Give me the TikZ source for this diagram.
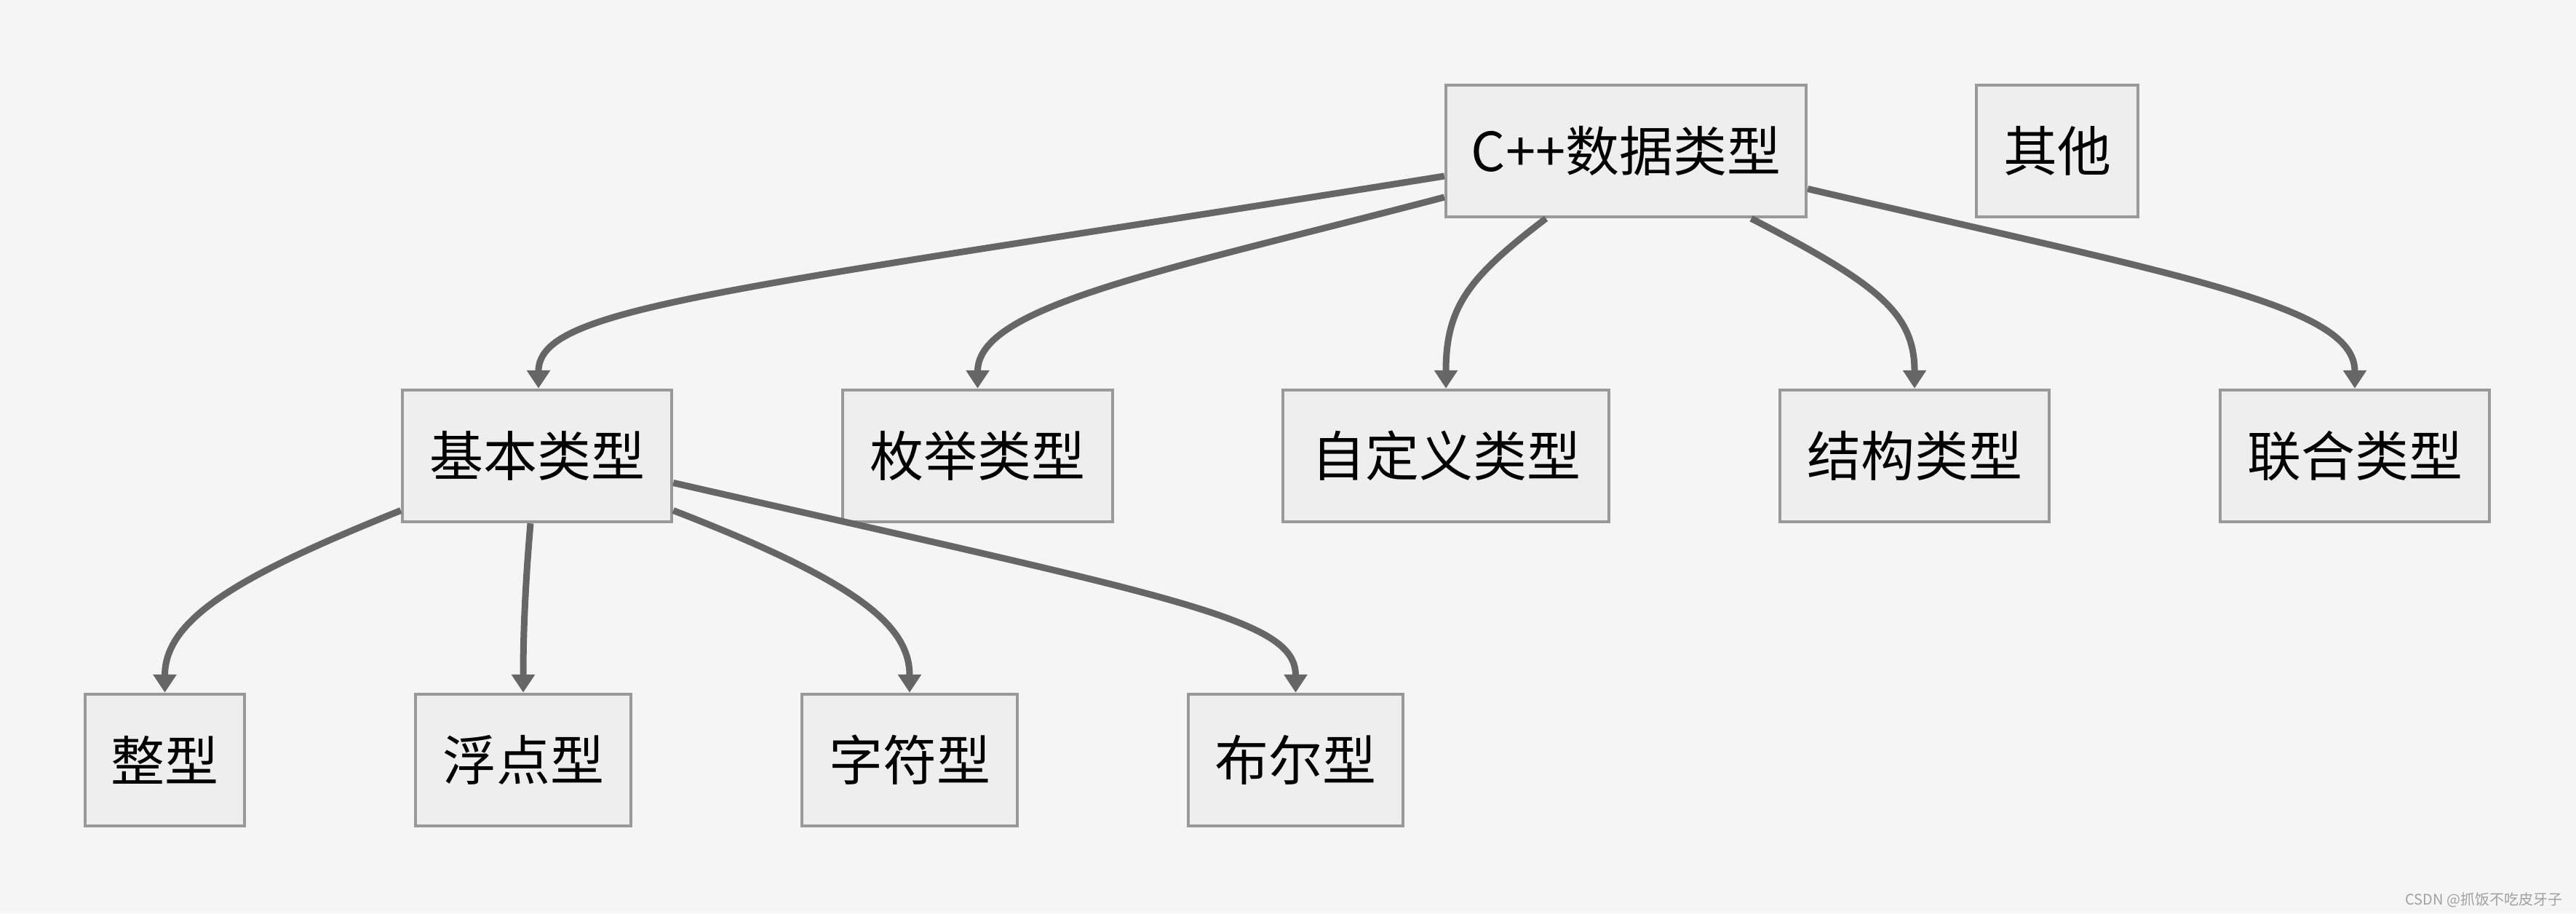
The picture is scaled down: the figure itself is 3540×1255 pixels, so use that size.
\documentclass[tikz,border=0pt]{standalone}
\usepackage{fontspec}
\setmainfont{Noto Sans CJK SC}
\usetikzlibrary{arrows.meta}
\definecolor{bgc}{HTML}{F5F5F5}
\definecolor{boxfill}{HTML}{EEEEEE}
\definecolor{boxline}{HTML}{999999}
\definecolor{linkc}{HTML}{666666}
\definecolor{markc}{HTML}{A0A0A0}
\begin{document}
\begin{tikzpicture}[x=1pt,y=-1pt,
  box/.style={draw=boxline, fill=boxfill, line width=4.5pt, minimum height=181pt, inner sep=0pt, font=\fontsize{74}{80}\selectfont},
  link/.style={draw=linkc, line width=9pt, -{Triangle[length=25pt,width=31pt]}}]
\fill[bgc] (0,0) rectangle (3540,1255);
\useasboundingbox (0,0) rectangle (3540,1255);
% nodes
\node[box, minimum width=495pt] (cpp) at (2234.5,207.5) {C++数据类型};
\node[box, minimum width=222pt] (qita) at (2827,207.5) {其他};
\node[box, minimum width=370pt] (jiben) at (738,626.5) {基本类型};
\node[box, minimum width=371pt] (meiju) at (1343.5,626.5) {枚举类型};
\node[box, minimum width=448pt] (zdy) at (1987,626.5) {自定义类型};
\node[box, minimum width=370pt] (jiegou) at (2631,626.5) {结构类型};
\node[box, minimum width=370pt] (lianhe) at (3236,626.5) {联合类型};
\node[box, minimum width=219pt] (zheng) at (226.5,1044.5) {整型};
\node[box, minimum width=296pt] (fudian) at (719,1044.5) {浮点型};
\node[box, minimum width=296pt] (zifu) at (1250,1044.5) {字符型};
\node[box, minimum width=295pt] (buer) at (1780.5,1044.5) {布尔型};
\node[text=markc, font=\fontsize{20}{24}\selectfont, anchor=east] (mark) at (3525,1237) {CSDN @抓饭不吃皮牙子};
% edges
\draw[link] ([yshift=-34.5pt]cpp.west) .. controls (1000,400) and (740,420) .. ([xshift=2pt]jiben.north);
\draw[link] ([yshift=-63.5pt]cpp.west) .. controls (1600,372) and (1343.5,420) .. (meiju.north);
\draw[link] ([xshift=-110pt]cpp.south) .. controls (2020,380) and (1987,420) .. (zdy.north);
\draw[link] ([xshift=172pt]cpp.south) .. controls (2580,390) and (2631,430) .. (jiegou.north);
\draw[link] ([yshift=-52pt]cpp.east) .. controls (3000,380) and (3236,420) .. (lianhe.north);
\draw[link] ([yshift=-75pt]jiben.west) .. controls (330,790) and (226.5,850) .. (zheng.north);
\draw[link] ([xshift=-9pt]jiben.south) .. controls (722,800) and (719,870) .. (fudian.north);
\draw[link] ([yshift=-75pt]jiben.east) .. controls (1180,800) and (1250,860) .. (zifu.north);
\draw[link] ([yshift=-37pt]jiben.east) .. controls (1623,823) and (1780.5,850) .. (buer.north);
\end{tikzpicture}
\end{document}
